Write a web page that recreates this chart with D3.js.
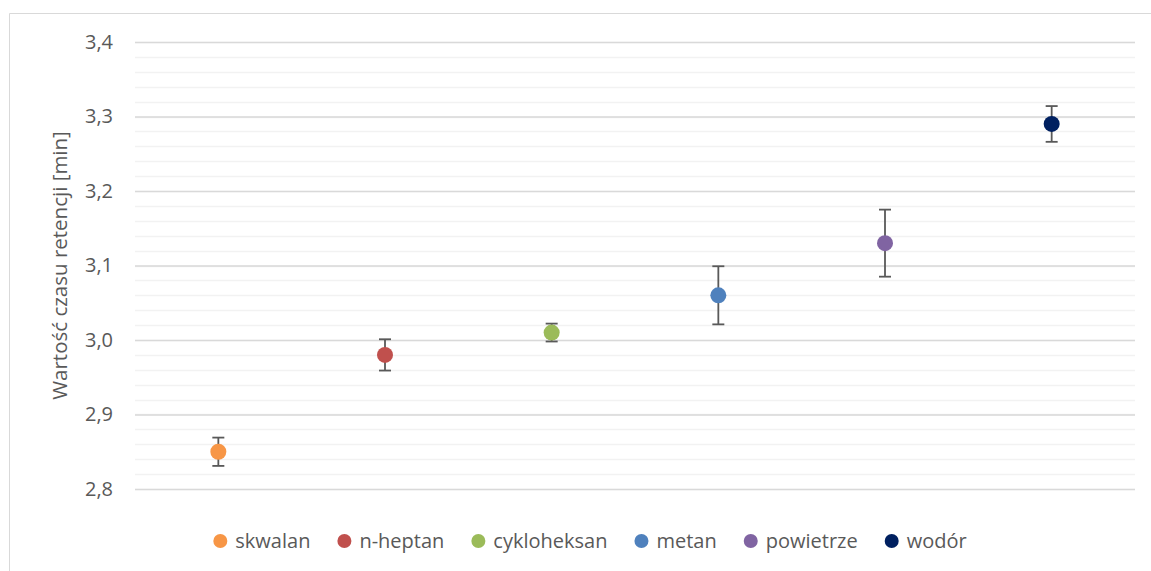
<!DOCTYPE html>
<html><head><meta charset="utf-8">
<script src="https://cdn.jsdelivr.net/npm/d3@7"></script>
<style>body{margin:0;background:#fff}svg{display:block}text{font-family:"Open Sans",sans-serif;fill:#595959}</style>
</head><body><svg id="c" width="1151" height="571"></svg>
<script>
const categories = ["skwalan","n-heptan","cykloheksan","metan","powietrze","wodór"];
const values = [2.85, 2.98, 3.01, 3.06, 3.13, 3.29];
const errors = [0.019, 0.021, 0.012, 0.039, 0.045, 0.024];
const colors = ["#f79646","#c0504d","#9bbb59","#4f81bd","#8064a2","#002060"];
const yTicks = [2.8, 2.9, 3.0, 3.1, 3.2, 3.3, 3.4];
const yMinor = d3.range(2.80, 3.401, 0.02);

const svg = d3.select("#c");
const W = 1151, H = 571;
const m = {l:135, r:16, t:42, b:82};
const x = d3.scaleBand().domain(categories).range([m.l, W - m.r]);
const y = d3.scaleLinear().domain([2.8, 3.4]).range([H - m.b, m.t]);

// chart border
svg.append("path").attr("d", `M9.5,${H} L9.5,13.5 L${W},13.5`).attr("fill","none").attr("stroke","#d9d9d9").attr("stroke-width",1);

// minor gridlines
svg.append("g").selectAll("line").data(yMinor).join("line")
  .attr("x1", m.l).attr("x2", W - m.r)
  .attr("y1", d => Math.round(y(d)) + 0.5).attr("y2", d => Math.round(y(d)) + 0.5)
  .attr("stroke", "#f2f2f2").attr("stroke-width", 1.3);

// major gridlines via axis
const yAxis = d3.axisLeft(y).tickValues(yTicks).tickSize(-(W - m.l - m.r)).tickPadding(22)
  .tickFormat(d => d3.format(".1f")(d).replace(".", ","));
const ga = svg.append("g").attr("transform", `translate(${m.l},0)`).call(yAxis);
ga.select(".domain").remove();
ga.selectAll(".tick line").attr("stroke", "#d9d9d9").attr("stroke-width", 1.3);
ga.selectAll(".tick text").attr("font-size", 20).style("fill","#595959");

// axis title
svg.append("text").attr("transform", `translate(67,${(y(2.8)+y(3.4))/2}) rotate(-90)`)
  .attr("text-anchor","middle").attr("font-size", 20.5).text("Wartość czasu retencji [min]");

// error bars
const eg = svg.append("g").selectAll("g").data(categories).join("g");
eg.append("line")
  .attr("x1", d => x(d) + x.bandwidth()/2).attr("x2", d => x(d) + x.bandwidth()/2)
  .attr("y1", (d,i) => y(values[i] + errors[i])).attr("y2", (d,i) => y(values[i] - errors[i]))
  .attr("stroke", "#595959").attr("stroke-width", 1.8);
[1,-1].forEach(s => {
  eg.append("line")
    .attr("x1", d => x(d) + x.bandwidth()/2 - 6).attr("x2", d => x(d) + x.bandwidth()/2 + 6)
    .attr("y1", (d,i) => y(values[i] + s*errors[i])).attr("y2", (d,i) => y(values[i] + s*errors[i]))
    .attr("stroke", "#595959").attr("stroke-width", 1.8);
});

// points
svg.append("g").selectAll("circle").data(categories).join("circle")
  .attr("cx", d => x(d) + x.bandwidth()/2).attr("cy", (d,i) => y(values[i]))
  .attr("r", 8).attr("fill", (d,i) => colors[i]);

// legend
const lg = svg.append("g");
const items = lg.selectAll("g").data(categories).join("g");
items.append("circle").attr("r", 7).attr("cx", 7).attr("cy", 0).attr("fill", (d,i) => colors[i]);
items.append("text").attr("x", 22).attr("y", 0).attr("dy", "0.35em").attr("font-size", 20).text(d => d);
let cx = 0;
items.each(function(){
  const g = d3.select(this);
  g.attr("transform", `translate(${cx},0)`);
  cx += 22 + g.select("text").node().getComputedTextLength() + 27;
});
const total = cx - 27;
lg.attr("transform", `translate(${590 - total/2},541)`);
</script></body></html>
